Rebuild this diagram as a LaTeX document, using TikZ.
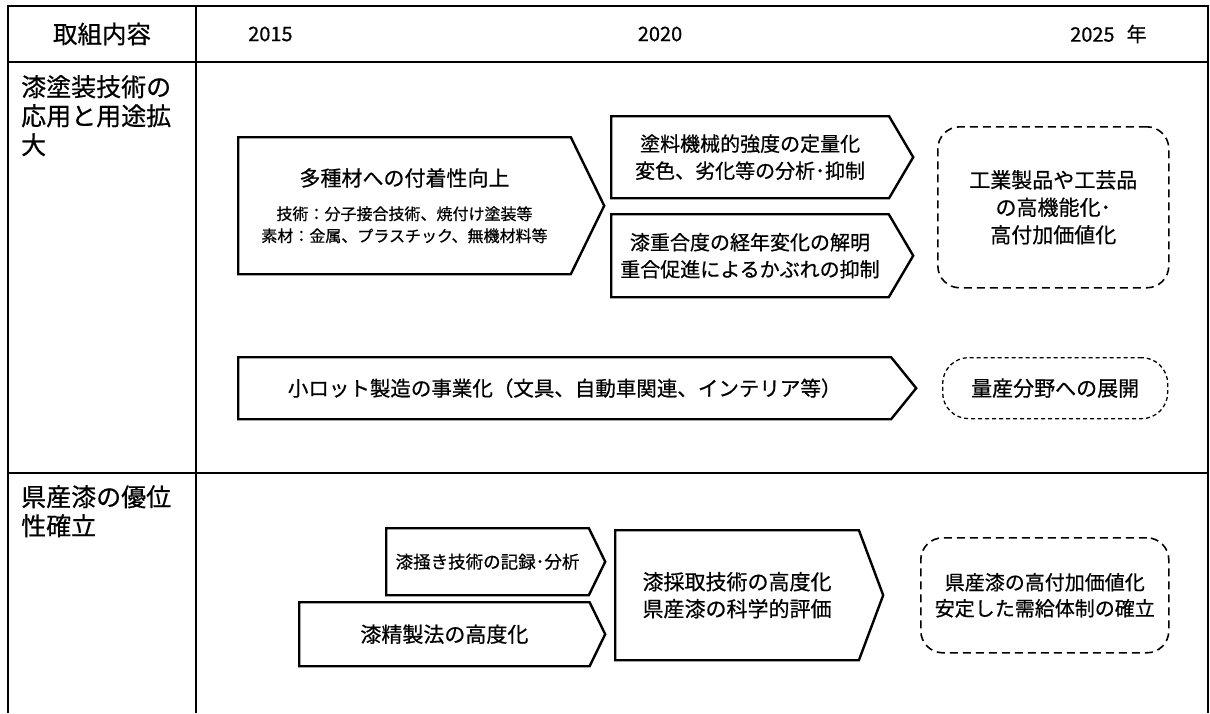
\documentclass[tikz,border=0pt]{standalone}
\usepackage{fontspec}
\setmainfont{Noto Sans CJK JP}[RawFeature={embolden=0.6}]
\usetikzlibrary{shapes.symbols}

\tikzstyle{grid} = [line width=1.4pt]
\tikzstyle{head} = [font=\fontsize{24.5}{28}\selectfont,inner sep=0pt]
\tikzstyle{year} = [font=\fontsize{20}{24}\selectfont,inner sep=0pt]
\tikzstyle{rowhead} = [align=left,anchor=north west,inner sep=0pt,font=\fontsize{25}{29}\selectfont]
\tikzstyle{stepbox} = [signal,signal to=east,draw=black,line width=2.4pt,align=center,inner sep=0pt,anchor=north west,font=\fontsize{20.5}{27}\selectfont]
\tikzstyle{goal} = [rectangle,rounded corners=22pt,draw=black,line width=1.6pt,dash pattern=on 8pt off 5pt,align=center,anchor=north west,inner sep=0pt,font=\fontsize{21}{27.5}\selectfont]

\begin{document}
\begin{tikzpicture}[x=1pt,y=-1pt]
	\useasboundingbox (0,0) rectangle (1210,713);
	% table
	\draw [grid] (8,713) -- (8,6) -- (1208,6) -- (1208,713);
	\draw [grid] (8,62) -- (1208,62);
	\draw [grid] (8,473) -- (1208,473);
	\draw [grid] (196,6) -- (196,713);
	% header
	\node (head) [head] at (102,34) {取組内容};
	\node (y2015) [year,anchor=west] at (248,34) {2015};
	\node (y2020) [year] at (660,34) {2020};
	\node (y2025) [year,anchor=west] at (1070,34) {2025\hspace{0.6em}年};
	\node (row1) [rowhead] at (21,75) {漆塗装技術の\\応用と用途拡\\大};
	\node (row2) [rowhead] at (21,485) {県産漆の優位\\性確立};
	% coating
	\node (multi) [stepbox,minimum width=366pt,minimum height=137pt,signal pointer angle=128,font=\fontsize{16}{22}\selectfont] at (237,136) {{\fontsize{21}{24}\selectfont 多種材への付着性向上}\\[12pt]技術：分子接合技術、焼付け塗装等\\素材：金属、プラスチック、無機材料等};
	\node (strength) [stepbox,minimum width=302pt,minimum height=82pt,signal pointer angle=119,font=\fontsize{20}{27}\selectfont] at (610,115) {塗料機械的強度の定量化\\変色、劣化等の分析･抑制};
	\node (polymer) [stepbox,minimum width=302pt,minimum height=83pt,signal pointer angle=119,font=\fontsize{20}{27}\selectfont] at (610,213) {漆重合度の経年変化の解明\\重合促進によるかぶれの抑制};
	\node (value) [goal] at (937,126) [minimum width=231pt,minimum height=161pt] {工業製品や工芸品\\の高機能化･\\高付加価値化};
	% small lot
	\node (smalllot) [stepbox,minimum width=678pt,minimum height=62pt,signal pointer angle=102] at (237,356) {小ロット製造の事業化（文具、自動車関連、インテリア等）};
	\node (mass) [goal,minimum width=225pt,minimum height=61pt,rounded corners=26pt,dash pattern=on 4pt off 3pt,line width=1.3pt] at (942,357) {量産分野への展開};
	% local urushi
	\node (tapping) [stepbox,minimum width=219pt,minimum height=67pt,signal pointer angle=128,font=\fontsize{17.5}{22}\selectfont] at (385,527) {漆掻き技術の記録･分析};
	\node (refine) [stepbox,minimum width=306pt,minimum height=64pt,signal pointer angle=128,font=\fontsize{21}{27}\selectfont] at (298,601) {漆精製法の高度化};
	\node (harvest) [stepbox,minimum width=268pt,minimum height=130pt,signal pointer angle=139,font=\fontsize{21}{27}\selectfont] at (614,529) {漆採取技術の高度化\\県産漆の科学的評価};
	\node (supply) [goal,minimum width=248pt,minimum height=115pt,font=\fontsize{20}{26}\selectfont] at (920,537) {県産漆の高付加価値化\\安定した需給体制の確立};
\end{tikzpicture}
\end{document}
